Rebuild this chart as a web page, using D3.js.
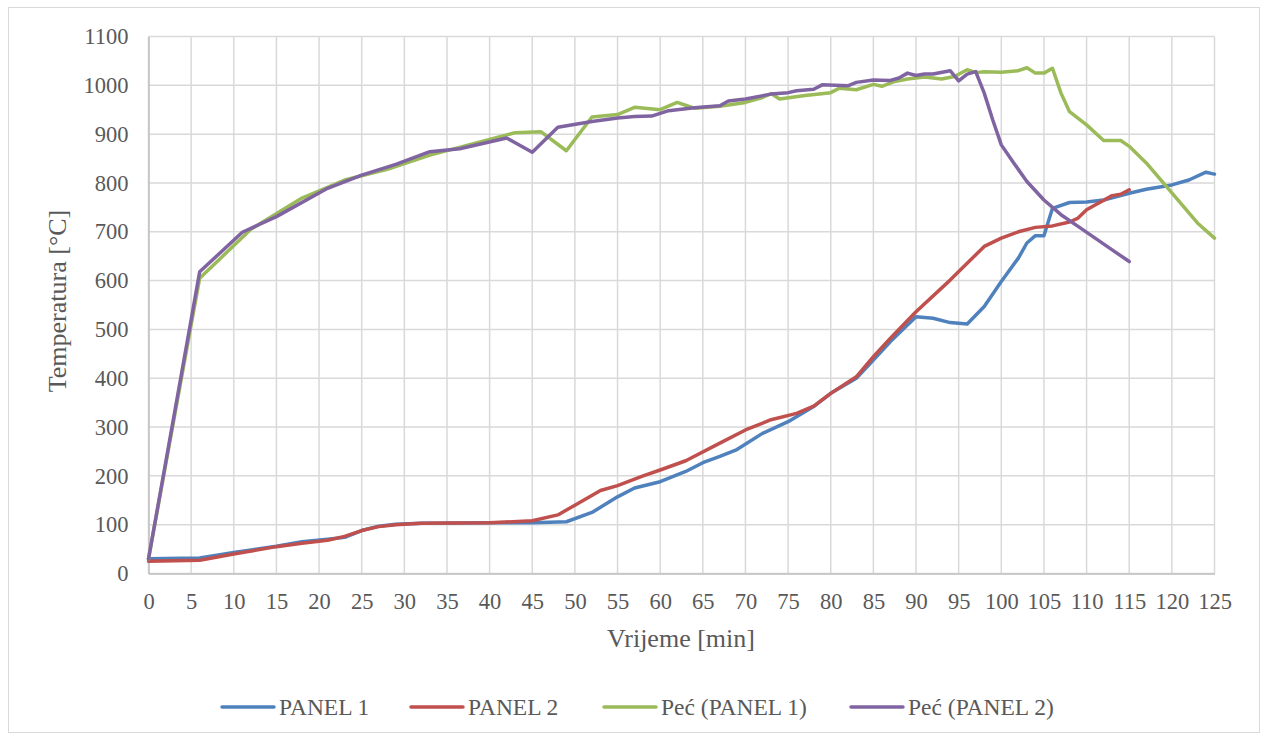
<!DOCTYPE html>
<html>
<head>
<meta charset="utf-8">
<script src="https://cdn.jsdelivr.net/npm/d3@7"></script>
<style>
  html, body { margin: 0; padding: 0; background: #fff; }
  svg { display: block; }
  text { font-family: "Liberation Serif", "Times New Roman", serif; fill: #595959; }
</style>
</head>
<body>
<svg id="chart" width="1262" height="740"></svg>
<script>
// ---- data ----
const seriesNames = ["PANEL 1", "PANEL 2", "Peć (PANEL 1)", "Peć (PANEL 2)"];
const seriesColors = ["#4F81BD", "#C0504D", "#9BBB59", "#8064A2"];

const panel1Time = [0, 6, 10, 15, 18, 21, 23, 25, 27, 29, 32, 40, 45, 49, 52, 55, 57, 60, 63, 65, 67, 69, 72, 75, 78, 80, 83, 85, 87, 90, 92, 94, 96, 98, 100, 102, 103, 104, 105, 106, 108, 110, 112, 114, 115, 117, 120, 122, 124, 125];
const panel1Temp = [30, 32, 43, 56, 65, 70, 74, 88, 97, 101, 103, 104, 104, 106, 125, 157, 175, 188, 209, 227, 240, 254, 287, 311, 342, 369, 400, 437, 475, 526, 523, 514, 511, 547, 598, 646, 677, 692, 692, 748, 760, 761, 765, 774, 779, 787, 796, 806, 822, 818];

const panel2Time = [0, 6, 10, 15, 18, 21, 23, 25, 27, 29, 32, 40, 45, 48, 50, 53, 55, 58, 60, 63, 67, 70, 73, 76, 78, 80, 83, 85, 87, 90, 94, 98, 100, 102, 104, 106, 108, 109, 110, 111, 113, 114, 115];
const panel2Temp = [25, 27, 40, 55, 62, 68, 76, 88, 96, 100, 103, 104, 108, 120, 140, 170, 180, 200, 212, 231, 267, 294, 315, 328, 343, 369, 403, 444, 482, 536, 601, 670, 687, 700, 709, 712, 720, 728, 745, 755, 774, 777, 786];

const furnace1Time = [0, 6, 12, 18, 23, 28, 33, 38, 43, 46, 49, 52, 55, 57, 60, 62, 64, 67, 70, 72, 73, 74, 77, 80, 81, 83, 85, 86, 87.5, 89, 91, 93, 94.5, 96, 97, 98, 100, 102, 103, 104, 105, 106, 107, 108, 110, 112, 114, 115, 117, 119, 121, 123, 125];
const furnace1Temp = [30, 605, 705, 769, 806, 828, 857, 880, 903, 905, 866, 935, 940, 955, 950, 965, 953, 957, 965, 975, 983, 972, 979, 985, 994, 991, 1002, 998, 1008, 1013, 1017, 1013, 1018, 1032, 1026, 1028, 1027, 1030, 1036, 1025, 1025, 1035, 984, 946, 919, 887, 887, 875, 841, 800, 759, 718, 687];

const furnace2Time = [0, 6, 11, 15, 21, 25, 29, 33, 36.5, 42, 45, 48, 52, 55, 57, 59, 61, 64, 67, 68, 70, 73, 75, 76, 78, 79, 82, 83, 85, 87, 88, 89, 90, 91, 92, 94, 95, 96, 97, 98, 99, 100, 101.5, 103, 105, 107, 109, 111, 113, 115];
const furnace2Temp = [30, 618, 699, 731, 789, 816, 838, 864, 870, 892, 863, 914, 926, 933, 936, 937, 948, 954, 958, 968, 972, 982, 985, 989, 992, 1001, 999, 1006, 1011, 1010, 1015, 1025, 1020, 1023, 1023, 1030, 1009, 1023, 1028, 984, 929, 878, 840, 803, 765, 735, 711, 687, 663, 639];

const xTicks = d3.range(0, 126, 5);
const yTicks = d3.range(0, 1101, 100);

// ---- build ----
const seriesTimes = [panel1Time, panel2Time, furnace1Time, furnace2Time];
const seriesTemps = [panel1Temp, panel2Temp, furnace1Temp, furnace2Temp];
const series = seriesNames.map((name, i) => ({
  name, color: seriesColors[i],
  points: seriesTimes[i].map((t, j) => ({ t, v: seriesTemps[i][j] }))
}));

const svg = d3.select("#chart");

// outer frame
svg.append("rect").attr("x", 8.5).attr("y", 7.5).attr("width", 1251).attr("height", 725)
  .attr("fill", "none").attr("stroke", "#d9d9d9").attr("stroke-width", 1);

const x = d3.scaleLinear().domain([0, 125]).range([148.5, 1214.5]);
const y = d3.scaleLinear().domain([0, 1100]).range([573.5, 36.5]);

// grid
const grid = svg.append("g");
grid.selectAll(".vg").data(xTicks).join("line")
  .attr("x1", d => x(d)).attr("x2", d => x(d)).attr("y1", y(0)).attr("y2", y(1100))
  .attr("stroke", "#d9d9d9").attr("stroke-width", 1.5);
grid.selectAll(".hg").data(yTicks).join("line")
  .attr("x1", x(0)).attr("x2", x(125)).attr("y1", d => y(d)).attr("y2", d => y(d))
  .attr("stroke", "#d9d9d9").attr("stroke-width", 1.5);

// axes
const xAxis = svg.append("g").attr("transform", `translate(0,${y(0)})`)
  .call(d3.axisBottom(x).tickValues(xTicks).tickSize(0).tickPadding(20).tickFormat(d3.format("d")));
xAxis.select(".domain").attr("stroke", "#bfbfbf").attr("stroke-width", 1.5);
xAxis.selectAll("text").style("font-size", "22.5px").attr("fill", "#595959")
  .attr("font-family", "Liberation Serif");

const yAxis = svg.append("g").attr("transform", `translate(${x(0)},0)`)
  .call(d3.axisLeft(y).tickValues(yTicks).tickSize(0).tickPadding(20).tickFormat(d3.format("d")));
yAxis.select(".domain").attr("stroke", "#bfbfbf").attr("stroke-width", 1.5);
yAxis.selectAll("text").style("font-size", "22.5px").attr("fill", "#595959")
  .attr("font-family", "Liberation Serif");

// axis titles
svg.append("text").attr("x", 681).attr("y", 647).attr("text-anchor", "middle")
  .style("font-size", "26px").text("Vrijeme [min]");
svg.append("text").attr("transform", "translate(66,301) rotate(-90)").attr("text-anchor", "middle")
  .style("font-size", "26px").text("Temperatura [°C]");

// lines
const line = d3.line().x(d => x(d.t)).y(d => y(d.v));
svg.append("g").selectAll("path").data(series).join("path")
  .attr("d", d => line(d.points))
  .attr("fill", "none").attr("stroke", d => d.color).attr("stroke-width", 3.5)
  .attr("stroke-linejoin", "round").attr("stroke-linecap", "round");

// legend
const legendX = [222, 411, 604, 851];
const lg = svg.append("g").selectAll("g").data(series).join("g")
  .attr("transform", (d, i) => `translate(${legendX[i]},707)`);
lg.append("line").attr("x1", 0).attr("x2", 52).attr("y1", 0).attr("y2", 0)
  .attr("stroke", d => d.color).attr("stroke-width", 3.5).attr("stroke-linecap", "round");
lg.append("text").attr("x", 57).attr("y", 8).style("font-size", "23.5px").text(d => d.name);
</script>
</body>
</html>
